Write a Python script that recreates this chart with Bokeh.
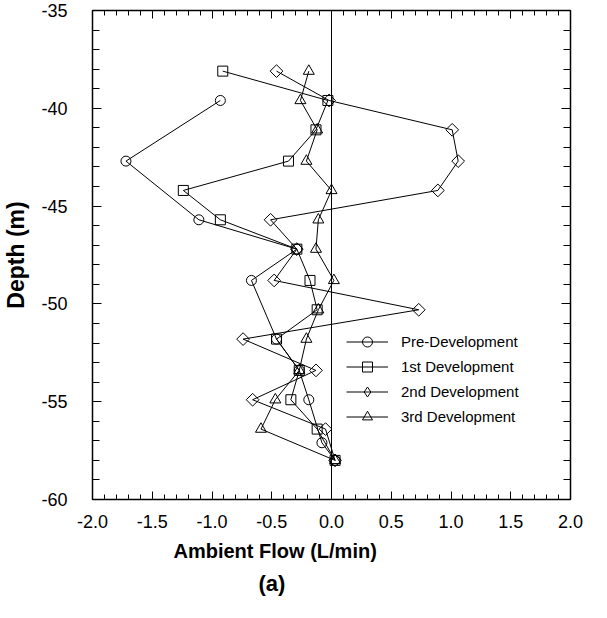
import math
from bokeh.plotting import figure
from bokeh.models import (Range1d, LinearAxis, SingleIntervalTicker, NumeralTickFormatter,
                          Span, Legend, LegendItem, Title)
from bokeh.embed import file_html
from bokeh.resources import INLINE

# ---- data ----
pre_depth = [-39.6, -42.7, -45.7, -47.2, -48.8, -51.8, -53.4, -54.9, -57.1, -58.0]
pre_flow = [-0.93, -1.72, -1.11, -0.29, -0.67, -0.46, -0.27, -0.19, -0.08, 0.03]

dev_depth = [-38.1, -39.6, -41.1, -42.7, -44.2, -45.7, -47.2, -48.8, -50.3, -51.8,
             -53.4, -54.9, -56.4, -58.0]
dev1_flow = [-0.91, -0.03, -0.13, -0.36, -1.24, -0.93, -0.29, -0.18, -0.12, -0.46,
             -0.27, -0.34, -0.12, 0.03]
dev2_flow = [-0.46, -0.02, 1.01, 1.06, 0.89, -0.51, -0.29, -0.48, 0.73, -0.74,
             -0.13, -0.66, -0.05, 0.03]
dev3_flow = [-0.19, -0.26, -0.12, -0.21, 0.0, -0.11, -0.13, 0.02, -0.11, -0.21,
             -0.27, -0.47, -0.59, 0.03]

series_names = ["Pre-Development", "1st Development", "2nd Development", "3rd Development"]

FONT = "Liberation Sans"

p = figure(width=591, height=602, output_backend="svg", toolbar_location=None,
           x_range=Range1d(-2, 2), y_range=Range1d(-60, -35),
           min_border_left=91, min_border_right=21, min_border_top=10, min_border_bottom=103)
p.xgrid.visible = False
p.ygrid.visible = False
p.outline_line_color = None
p.background_fill_color = "white"
p.border_fill_color = "white"


def style_axis(ax, labels, tin, tmin):
    ax.axis_line_color = "black"
    ax.axis_line_width = 1.5
    ax.major_tick_line_color = "black"
    ax.minor_tick_line_color = "black"
    ax.major_tick_line_width = 1
    ax.minor_tick_line_width = 1
    ax.major_tick_in = tin
    ax.major_tick_out = 0
    ax.minor_tick_in = tmin
    ax.minor_tick_out = 0
    if labels:
        ax.major_label_text_font = FONT
        ax.major_label_text_font_size = "18px"
        ax.major_label_text_color = "black"
    else:
        ax.major_label_text_font_size = "0px"
        ax.major_label_text_alpha = 0
        ax.major_label_standoff = 0


# bottom axis
xa = p.xaxis[0]
xa.ticker = SingleIntervalTicker(interval=0.5, num_minor_ticks=5)
xa.formatter = NumeralTickFormatter(format="0.0")
style_axis(xa, True, 8, 5)
xa.major_label_standoff = 15

# left axis
ya = p.yaxis[0]
ya.ticker = SingleIntervalTicker(interval=5, num_minor_ticks=5)
ya.formatter = NumeralTickFormatter(format="0")
style_axis(ya, True, 9, 7)
ya.major_label_standoff = 25
ya.axis_label = "Depth (m)"
ya.axis_label_text_font = FONT
ya.axis_label_text_font_size = "23px"
ya.axis_label_text_font_style = "bold"
ya.axis_label_text_color = "black"
ya.axis_label_standoff = 9

# top axis
ta = LinearAxis(ticker=SingleIntervalTicker(interval=0.5, num_minor_ticks=5))
style_axis(ta, False, 8, 5)
p.add_layout(ta, "above")

# right axis
ra = LinearAxis(ticker=SingleIntervalTicker(interval=5, num_minor_ticks=5))
style_axis(ra, False, 9, 7)
p.add_layout(ra, "right")

# zero line
p.add_layout(Span(location=0, dimension="height", line_color="black", line_width=1))

# series
specs = [
    (pre_flow, pre_depth, dict(marker="circle", size=10), None),
    (dev1_flow, dev_depth, dict(marker="square", size=10), None),
    (dev2_flow, dev_depth, dict(marker="square", size=9, angle=math.pi / 4), "diamond"),
    (dev3_flow, dev_depth, dict(marker="triangle", size=11), None),
]
items = []
for name, (xs, ys, mk, legend_marker) in zip(series_names, specs):
    lr = p.line(xs, ys, line_color="black", line_width=1)
    sr = p.scatter(xs, ys, fill_color=None, line_color="black", line_width=1, **mk)
    if legend_marker == "diamond":
        # zero-size twin used only for the legend swatch (legend ignores marker rotation)
        lm = p.scatter(xs, ys, marker="diamond", size=0, fill_color=None,
                       line_color="black", line_width=1)
        items.append(LegendItem(label=name, renderers=[lr, lm]))
    else:
        items.append(LegendItem(label=name, renderers=[lr, sr]))

legend = Legend(items=items, location=(254, 70), border_line_color=None,
                background_fill_alpha=0, padding=0, margin=0, spacing=-1,
                label_height=25, glyph_height=25, glyph_width=42, label_standoff=13,
                label_text_font=FONT, label_text_font_size="15px", label_text_color="black")
p.add_layout(legend)

# x-axis title and panel caption
t1 = Title(text="Ambient Flow (L/min)", align="left", offset=81, vertical_align="bottom",
           text_font=FONT, text_font_size="20px", text_font_style="bold", text_color="black",
           standoff=15)
p.add_layout(t1, "below")
t2 = Title(text="(a)", align="left", offset=166, vertical_align="middle",
           text_font=FONT, text_font_size="22px", text_font_style="bold", text_color="black",
           standoff=0)
p.add_layout(t2, "below")

open("out.html", "w").write(file_html(p, INLINE))
